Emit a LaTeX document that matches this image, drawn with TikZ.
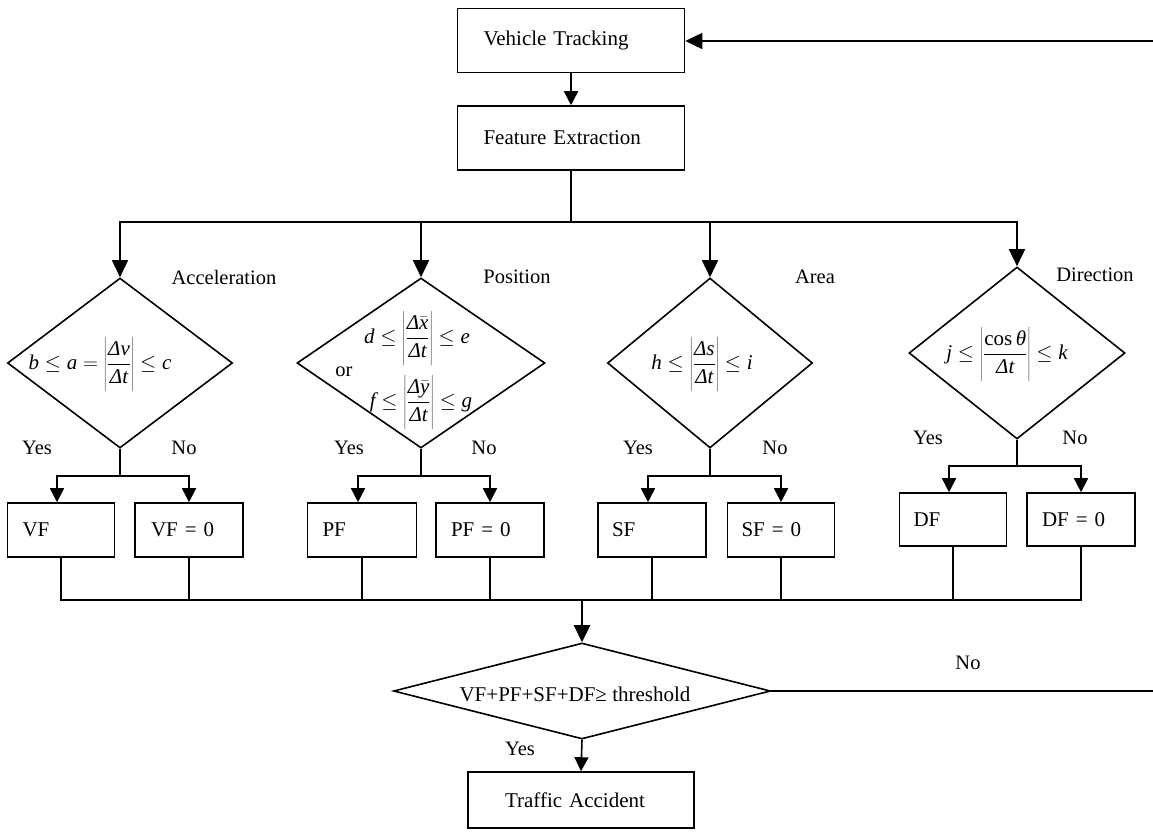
\documentclass[tikz,border=0pt]{standalone}
\usepackage{fontspec}
\setmainfont{Liberation Serif}
\usetikzlibrary{arrows.meta,shapes.geometric}
\newcommand\tx[1]{\mbox{\itshape #1}}
\newcommand\fr[2]{\frac{\strut #1}{\strut #2}}
\tikzset{
  lbl/.style={font=\fontsize{20.5}{24}\selectfont, inner sep=0pt},
  fml/.style={font=\fontsize{21}{25}\selectfont, inner sep=0pt},
  pbox/.style={draw, rectangle, font=\fontsize{21}{25}\selectfont, align=left, inner ysep=0pt},
  dia/.style={draw, diamond, inner sep=0pt},
  arr/.style={-{Triangle[length=14pt,width=14pt]}},
  arrb/.style={-{Triangle[length=17pt,width=16pt]}},
}
\begin{document}
\begin{tikzpicture}[x=1pt,y=-1pt,line width=1.6pt]
\useasboundingbox (0,0) rectangle (1153,836);
% boxes
\node[pbox, minimum width=227, minimum height=64, text width=175, inner xsep=26] (vt) at (571,40.5) {Vehicle Tracking};
\node[pbox, minimum width=227, minimum height=64, text width=175, inner xsep=26] (fe) at (571,138) {Feature Extraction};
\node[pbox, minimum width=107, minimum height=54, text width=77, inner xsep=15] (vf) at (61,530) {VF};
\node[pbox, minimum width=108, minimum height=54, text width=76, inner xsep=16] (vf0) at (189,530) {VF = 0};
\node[pbox, minimum width=109, minimum height=54, text width=79, inner xsep=15] (pf) at (362,530) {PF};
\node[pbox, minimum width=108, minimum height=54, text width=78, inner xsep=15] (pf0) at (490,530) {PF = 0};
\node[pbox, minimum width=108, minimum height=54, text width=80, inner xsep=14] (sf) at (652,530) {SF};
\node[pbox, minimum width=107, minimum height=54, text width=79, inner xsep=14] (sf0) at (781,530) {SF = 0};
\node[pbox, minimum width=107, minimum height=53, text width=79, inner xsep=14] (df) at (953,519.5) {DF};
\node[pbox, minimum width=108, minimum height=53, text width=78, inner xsep=15] (df0) at (1081,519.5) {DF = 0};
\node[pbox, minimum width=226, minimum height=56, text width=152, inner xsep=37] (ta) at (581,800) {Traffic Accident};
% diamonds
\node[dia, minimum width=225, minimum height=170] (d1) at (120,363) {};
\node[dia, minimum width=248, minimum height=170] (d2) at (421,363) {};
\node[dia, minimum width=205, minimum height=170] (d3) at (710,363) {};
\node[dia, minimum width=216, minimum height=172] (d4) at (1017,353) {};
\node[dia, minimum width=377, minimum height=96] (d5) at (582,691) {};
% formulas
\node[fml] (f1) at (100,364) {$\displaystyle \tx{b}\le \tx{a}=\left|\fr{\tx{Δv}}{\tx{Δt}}\right|\le \tx{c}$};
\node[fml] (f2a) at (417,338) {$\displaystyle \tx{d}\le\left|\fr{\tx{Δ}\bar{\tx{x}}}{\tx{Δt}}\right|\le \tx{e}$};
\node[lbl] (f2or) at (344,372) {or};
\node[fml] (f2b) at (421,402) {$\displaystyle \tx{f}\le\left|\fr{\tx{Δ}\bar{\tx{y}}}{\tx{Δt}}\right|\le \tx{g}$};
\node[fml] (f3) at (702,364) {$\displaystyle \tx{h}\le\left|\fr{\tx{Δs}}{\tx{Δt}}\right|\le \tx{i}$};
\node[fml] (f4) at (1007,354) {$\displaystyle \tx{j}\le\left|\fr{\mbox{cos\,\itshape θ}}{\tx{Δt}}\right|\le \tx{k}$};
\node[fml] (f5) at (575,694) {VF+PF+SF+DF≥ threshold};
% labels
\node[lbl] (la) at (224,277) {Acceleration};
\node[lbl] (lp) at (517,277) {Position};
\node[lbl] (lar) at (815,277) {Area};
\node[lbl] (ld) at (1095,275) {Direction};
\node[lbl] (y1) at (37,448) {Yes};
\node[lbl] (n1) at (184,448) {No};
\node[lbl] (y2) at (349,448) {Yes};
\node[lbl] (n2) at (484,448) {No};
\node[lbl] (y3) at (638,448) {Yes};
\node[lbl] (n3) at (775,448) {No};
\node[lbl] (y4) at (928,438) {Yes};
\node[lbl] (n4) at (1075,438) {No};
\node[lbl] (y5) at (520,749) {Yes};
\node[lbl] (n5) at (968,663) {No};
% coordinates
\coordinate (fb) at (571,222);
\coordinate (jb) at (582,600);
\coordinate (rT) at (1153,41);
\coordinate (rE) at (1153,691);
% connectors top
\draw[arrb] (rT) -- (vt.east |- rT);
\draw[arr] (vt.south) -- (fe.north);
\draw (fe.south) -- (fb);
\draw[arrb] (fb) -| (d1.north);
\draw[arrb] (fb) -| (d2.north);
\draw[arrb] (fb) -| (d3.north);
\draw[arrb] (fb) -| (d4.north);
% splits
\draw[arr] (d1.south) -- ++(0,27) -| ([xshift=-4pt]vf.north);
\draw[arr] (d1.south) -- ++(0,27) -| (vf0.north);
\draw[arr] (d2.south) -- ++(0,27) -| ([xshift=-4pt]pf.north);
\draw[arr] (d2.south) -- ++(0,27) -| (pf0.north);
\draw[arr] (d3.south) -- ++(0,27) -| ([xshift=-4pt]sf.north);
\draw[arr] (d3.south) -- ++(0,27) -| (sf0.north);
\draw[arr] (d4.south) -- ++(0,26) -| ([xshift=-4pt]df.north);
\draw[arr] (d4.south) -- ++(0,26) -| (df0.north);
% bottom bus
\foreach \b in {vf,vf0,pf,pf0,sf,sf0,df,df0}{\draw (\b.south) |- (jb);}
\draw[line width=2.6pt] (pf.south |- jb) -- (sf0.south |- jb);
\draw[arrb, line width=2.6pt] (jb) -- (d5.north);
\draw[arr] (d5.south) -- (ta.north);
\draw (d5.east) -- (rE);
\end{tikzpicture}
\end{document}
